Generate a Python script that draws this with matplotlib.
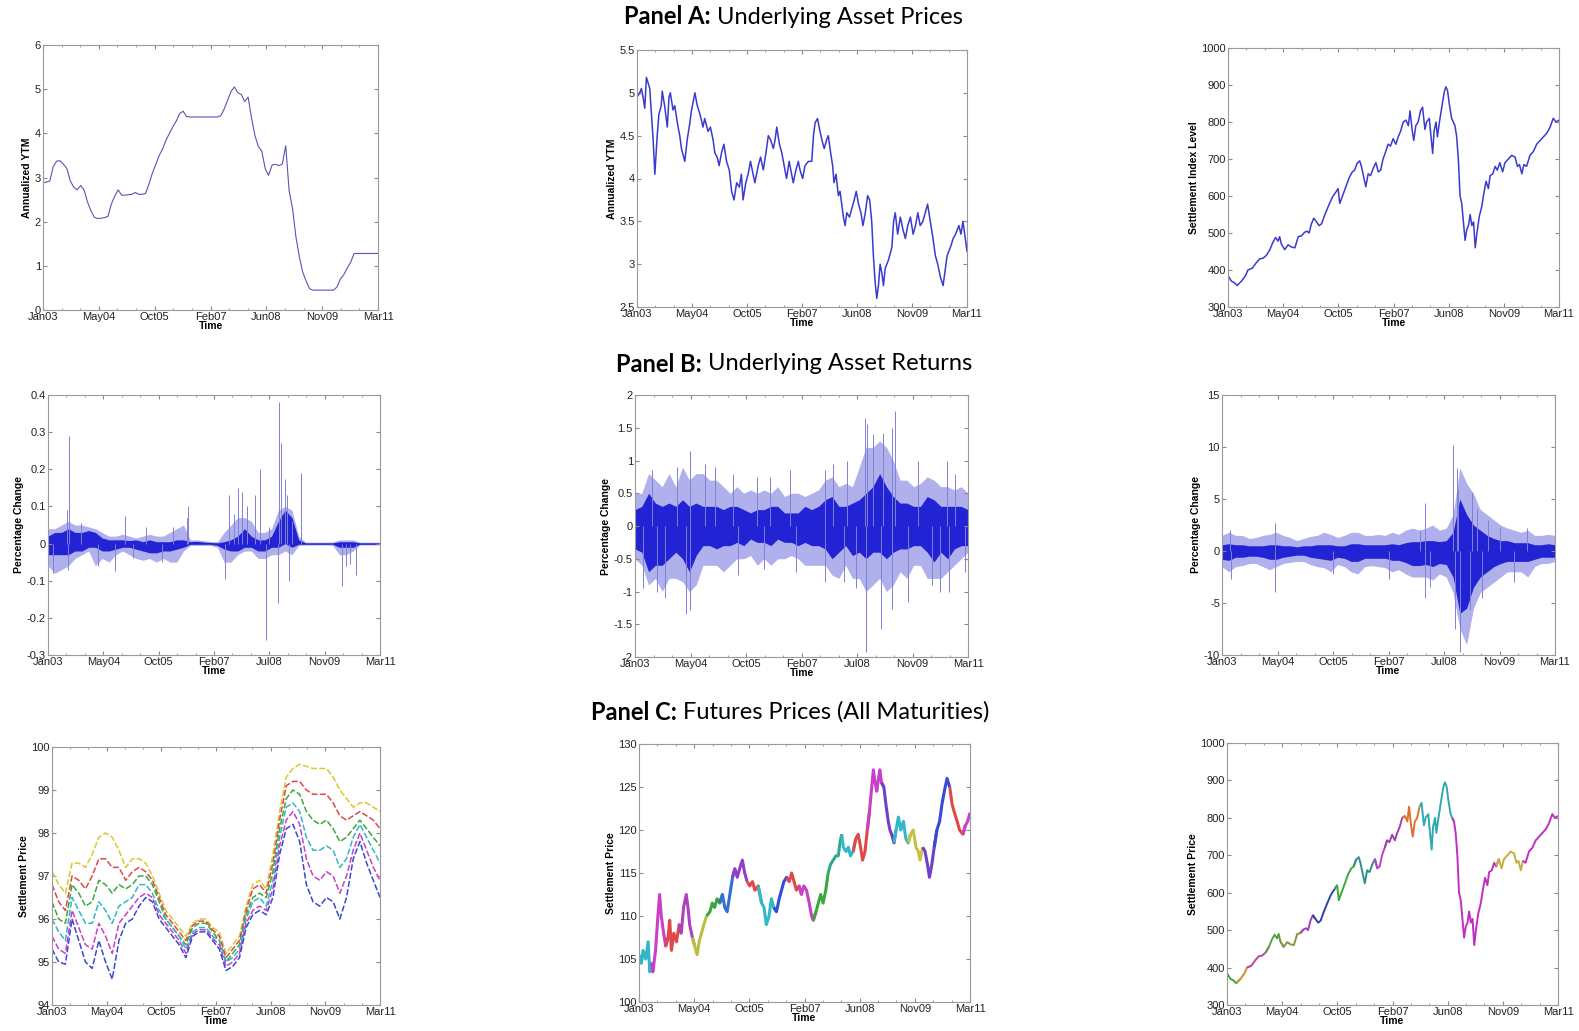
import numpy as np
import matplotlib
matplotlib.use('Agg')
import matplotlib.pyplot as plt
from matplotlib.ticker import FormatStrFormatter, AutoMinorLocator

plt.rcParams['font.family'] = ['Liberation Sans', 'DejaVu Sans']

W, H = 1579, 1031

# x axis is months since Jan 2003 (0 .. 98 = Mar 2011)
labels_jun = ['Jan03', 'May04', 'Oct05', 'Feb07', 'Jun08', 'Nov09', 'Mar11']
labels_jul = ['Jan03', 'May04', 'Oct05', 'Feb07', 'Jul08', 'Nov09', 'Mar11']

# ---- Panel A: underlying prices ----
a1_t = np.arange(99)
a1_v = [2.88, 2.9, 2.92, 3.25, 3.37, 3.38, 3.3, 3.2, 2.92, 2.78,
        2.72, 2.82, 2.72, 2.45, 2.25, 2.1, 2.07, 2.08, 2.09, 2.12,
        2.4, 2.58, 2.72, 2.6, 2.6, 2.61, 2.62, 2.66, 2.62, 2.62,
        2.64, 2.85, 3.1, 3.3, 3.5, 3.65, 3.85, 4.0, 4.15, 4.28,
        4.45, 4.5, 4.38, 4.37, 4.37, 4.37, 4.37, 4.37, 4.37, 4.37,
        4.37, 4.37, 4.4, 4.55, 4.75, 4.95, 5.05, 4.92, 4.88, 4.72,
        4.82, 4.35, 3.95, 3.7, 3.6, 3.2, 3.05, 3.28, 3.3, 3.27,
        3.3, 3.72, 2.7, 2.3, 1.65, 1.2, 0.85, 0.65, 0.48, 0.45,
        0.45, 0.45, 0.45, 0.45, 0.45, 0.45, 0.52, 0.7, 0.8, 0.95,
        1.08, 1.28, 1.28, 1.28, 1.28, 1.28, 1.28, 1.28, 1.28]

a2_t = [0, 0.8, 1.3, 1.8, 2.3, 2.8, 3.8, 4.0, 4.8, 5.3,
        6.0, 6.5, 7.2, 7.5, 8.2, 9.0, 9.5, 9.9, 10.7, 11.2,
        12.2, 12.7, 13.2, 14.2, 14.9, 15.7, 16.2, 17.2, 17.9, 18.7,
        19.6, 20.1, 21.1, 21.8, 22.6, 23.1, 23.8, 24.4, 25.1, 25.8,
        26.6, 27.4, 28.1, 28.8, 29.6, 30.4, 31.0, 31.5, 32.3, 33.0,
        33.7, 34.5, 35.0, 36.0, 36.7, 37.5, 38.3, 39.0, 39.7, 40.5,
        41.0, 41.5, 42.3, 43.0, 43.7, 44.4, 45.2, 45.9, 46.4, 47.2,
        47.9, 48.4, 49.2, 49.9, 50.9, 51.9, 52.4, 52.9, 53.6, 54.1,
        54.9, 55.6, 56.3, 56.8, 57.5, 58.1, 58.5, 59.1, 59.8, 60.3,
        61.3, 61.8, 62.3, 63.1, 63.8, 64.5, 65.1, 65.8, 66.5, 67.1,
        67.8, 68.5, 69.1, 69.7, 70.2, 70.7, 71.2, 71.7, 72.2, 72.7,
        73.2, 73.7, 74.7, 75.7, 76.2, 76.7, 77.4, 78.2, 79.0, 79.7,
        80.4, 81.2, 82.0, 82.7, 83.4, 84.1, 84.9, 85.6, 86.3, 87.1,
        87.9, 88.6, 89.3, 90.1, 90.9, 91.6, 92.1, 93.1, 93.9, 94.6,
        95.6, 96.2, 96.8, 97.5, 98.0]
a2_v = [4.95, 5.0, 5.05, 4.95, 4.82, 5.18, 5.05, 4.92, 4.45, 4.05,
        4.5, 4.75, 4.85, 5.02, 4.85, 4.6, 4.95, 5.0, 4.8, 4.85,
        4.6, 4.5, 4.35, 4.2, 4.45, 4.65, 4.8, 5.0, 4.85, 4.75,
        4.6, 4.7, 4.55, 4.6, 4.45, 4.3, 4.25, 4.15, 4.3, 4.4,
        4.2, 4.1, 3.85, 3.75, 3.95, 3.9, 4.05, 3.75, 3.95, 4.05,
        4.2, 4.05, 3.95, 4.15, 4.25, 4.1, 4.3, 4.5, 4.45, 4.35,
        4.45, 4.6, 4.4, 4.3, 4.15, 4.0, 4.2, 4.05, 3.95, 4.1,
        4.2, 4.1, 4.0, 4.15, 4.2, 4.2, 4.5, 4.65, 4.7, 4.6,
        4.45, 4.35, 4.45, 4.5, 4.3, 4.15, 3.95, 4.05, 3.8, 3.85,
        3.55, 3.45, 3.6, 3.55, 3.65, 3.75, 3.85, 3.7, 3.6, 3.45,
        3.6, 3.8, 3.75, 3.5, 3.1, 2.8, 2.6, 2.75, 3.0, 2.9,
        2.75, 2.95, 3.05, 3.2, 3.5, 3.6, 3.35, 3.55, 3.4, 3.3,
        3.45, 3.55, 3.35, 3.45, 3.6, 3.45, 3.5, 3.6, 3.7, 3.5,
        3.3, 3.1, 3.0, 2.85, 2.75, 2.95, 3.1, 3.2, 3.3, 3.35,
        3.45, 3.35, 3.5, 3.3, 3.15]

a3_t = [0, 1, 2, 2.7, 4, 5.2, 5.9, 7.2, 8.4, 9.4,
        10.4, 11.4, 12.4, 13.3, 14.1, 14.8, 15.3, 15.8, 16.8, 17.8,
        18.8, 19.8, 20.8, 21.7, 22.7, 23.4, 24.0, 24.7, 25.4, 26.2,
        27.0, 27.7, 28.7, 29.6, 30.3, 31.1, 31.9, 32.6, 33.1, 33.9,
        34.9, 35.9, 36.8, 37.5, 38.2, 39.0, 39.5, 40.2, 40.8, 41.5,
        42.2, 43.0, 43.8, 44.5, 45.2, 45.9, 46.7, 47.4, 48.1, 48.9,
        49.7, 50.4, 51.1, 51.9, 52.7, 53.4, 53.9, 54.5, 55.0, 55.6,
        56.3, 57.0, 57.6, 58.3, 58.8, 59.6, 60.0, 60.6, 61.0, 61.6,
        62.0, 62.6, 63.3, 64.0, 64.5, 65.0, 65.5, 66.2, 66.7, 67.2,
        67.7, 68.2, 68.7, 69.2, 69.7, 70.2, 70.7, 71.2, 71.7, 72.2,
        72.7, 73.2, 73.7, 74.4, 75.1, 75.8, 76.4, 77.1, 77.6, 78.4,
        79.1, 79.7, 80.5, 81.3, 82.0, 83.0, 84.0, 85.0, 85.7, 86.3,
        87.0, 87.6, 88.4, 89.4, 90.4, 91.4, 92.4, 93.4, 94.4, 95.3,
        96.3, 97.1, 98.0]
a3_v = [385, 370, 365, 358, 370, 385, 400, 405, 420, 430,
        432, 440, 455, 475, 488, 478, 490, 470, 455, 468,
        462, 460, 490, 492, 502, 505, 500, 525, 540, 530,
        520, 525, 550, 570, 585, 600, 610, 620, 580, 600,
        625, 650, 665, 670, 688, 695, 680, 650, 625, 660,
        655, 675, 690, 665, 670, 700, 720, 740, 735, 755,
        740, 760, 775, 800, 805, 790, 830, 780, 750, 790,
        800, 830, 840, 780, 800, 810, 770, 715, 775, 800,
        760, 800, 840, 880, 895, 885, 850, 810, 800, 790,
        760, 700, 600, 580, 530, 480, 510, 520, 550, 520,
        530, 460, 500, 545, 570, 610, 640, 620, 655, 660,
        680, 670, 690, 665, 690, 700, 710, 705, 680, 685,
        660, 685, 680, 710, 720, 740, 750, 760, 770, 785,
        810, 800, 805]

# ---- Panel B: returns, read as envelopes every two months ----
b_t = np.arange(0, 99, 2)

b1_outer_hi = [0.04, 0.04, 0.05, 0.06, 0.05, 0.05, 0.045, 0.04, 0.03, 0.02,
               0.02, 0.025, 0.02, 0.015, 0.02, 0.025, 0.02, 0.02, 0.03, 0.04,
               0.05, 0.01, 0.01, 0.008, 0.005, 0.005, 0.03, 0.05, 0.07, 0.07,
               0.06, 0.03, 0.03, 0.04, 0.09, 0.1, 0.09, 0.02, 0.004, 0.004,
               0.004, 0.004, 0.004, 0.01, 0.01, 0.01, 0.004, 0.004, 0.004, 0.004]
b1_outer_lo = [-0.06, -0.08, -0.07, -0.06, -0.04, -0.03, -0.02, -0.06, -0.04, -0.05,
               -0.03, -0.02, -0.03, -0.04, -0.045, -0.04, -0.05, -0.04, -0.05, -0.05,
               -0.02, -0.005, -0.005, -0.005, -0.005, -0.01, -0.05, -0.05, -0.03, -0.02,
               -0.02, -0.04, -0.04, -0.03, -0.03, -0.02, -0.03, -0.005, -0.004, -0.004,
               -0.004, -0.004, -0.004, -0.03, -0.03, -0.02, -0.004, -0.004, -0.004, -0.004]
b1_core_hi = [0.02, 0.03, 0.03, 0.04, 0.03, 0.03, 0.035, 0.03, 0.015, 0.01,
              0.01, 0.01, 0.008, 0.01, 0.005, 0.01, 0.005, 0.005, 0.005, 0.01,
              0.01, 0.005, 0.006, 0.004, 0.003, 0.002, 0.005, 0.01, 0.02, 0.04,
              0.02, 0.01, 0.01, 0.02, 0.06, 0.09, 0.07, 0.01, 0.002, 0.002,
              0.002, 0.002, 0.002, 0.005, 0.005, 0.005, 0.002, 0.002, 0.002, 0.002]
b1_core_lo = [-0.03, -0.03, -0.03, -0.03, -0.02, -0.02, -0.01, -0.01, -0.02, -0.02,
              -0.015, -0.01, -0.01, -0.015, -0.02, -0.025, -0.025, -0.02, -0.02, -0.015,
              -0.01, -0.002, -0.002, -0.002, -0.002, -0.005, -0.015, -0.02, -0.02, -0.01,
              -0.01, -0.02, -0.02, -0.01, -0.01, 0.0, -0.01, -0.002, -0.002, -0.002,
              -0.002, -0.002, -0.002, -0.01, -0.01, -0.01, -0.002, -0.002, -0.002, -0.002]
b1_spike_t = [1.5, 5.7, 5.9, 6.2, 9.6, 14.8, 19.7, 22.6, 25.2, 29.0,
              33.6, 37.0, 40.9, 41.4, 52.3, 53.3, 54.9, 56.1, 57.3, 58.8,
              61.0, 62.7, 64.3, 65.3, 68.0, 68.3, 68.8, 69.9, 70.6, 71.2,
              71.9, 74.8, 86.7, 88.0, 89.2, 90.9]
b1_spike_v = [-0.08, 0.09, -0.07, 0.29, 0.055, -0.06, -0.075, 0.075, -0.04, 0.045,
              -0.05, 0.045, 0.07, 0.1, -0.095, 0.13, 0.08, 0.15, 0.14, 0.1,
              0.13, 0.2, -0.26, 0.045, -0.16, 0.38, 0.27, 0.175, 0.13, -0.1,
              0.06, 0.19, -0.115, -0.06, -0.055, -0.085]

b2_outer_hi = [0.5, 0.5, 0.8, 0.7, 0.6, 0.8, 0.6, 0.9, 0.7, 0.8,
               0.8, 0.7, 0.7, 0.6, 0.5, 0.6, 0.5, 0.55, 0.5, 0.55,
               0.5, 0.6, 0.45, 0.5, 0.5, 0.45, 0.5, 0.55, 0.7, 0.75,
               0.6, 0.65, 0.6, 0.9, 1.2, 1.2, 1.3, 1.2, 1.0, 0.7,
               0.7, 0.6, 0.65, 0.75, 0.7, 0.6, 0.6, 0.55, 0.6, 0.5]
b2_outer_lo = [-0.5, -0.6, -0.9, -0.8, -1.0, -0.8, -0.8, -0.85, -1.0, -0.9,
               -0.6, -0.6, -0.6, -0.7, -0.6, -0.5, -0.5, -0.45, -0.6, -0.5,
               -0.6, -0.5, -0.5, -0.45, -0.5, -0.6, -0.6, -0.6, -0.6, -0.75,
               -0.8, -0.6, -0.8, -0.8, -1.0, -0.9, -0.8, -1.0, -0.9, -0.7,
               -0.8, -0.6, -0.6, -0.8, -0.8, -0.8, -0.7, -0.6, -0.5, -0.4]
b2_core_hi = [0.25, 0.3, 0.5, 0.35, 0.3, 0.35, 0.3, 0.4, 0.3, 0.35,
              0.3, 0.3, 0.3, 0.25, 0.3, 0.3, 0.25, 0.2, 0.25, 0.25,
              0.3, 0.3, 0.2, 0.2, 0.2, 0.3, 0.25, 0.3, 0.4, 0.45,
              0.3, 0.3, 0.35, 0.4, 0.5, 0.6, 0.8, 0.6, 0.45, 0.35,
              0.35, 0.3, 0.3, 0.45, 0.4, 0.3, 0.3, 0.3, 0.3, 0.25]
b2_core_lo = [-0.35, -0.4, -0.7, -0.6, -0.6, -0.5, -0.4, -0.5, -0.7, -0.45,
              -0.3, -0.3, -0.35, -0.3, -0.3, -0.25, -0.3, -0.2, -0.25, -0.25,
              -0.3, -0.2, -0.25, -0.25, -0.3, -0.25, -0.3, -0.3, -0.35, -0.5,
              -0.4, -0.3, -0.45, -0.4, -0.5, -0.4, -0.4, -0.5, -0.4, -0.35,
              -0.35, -0.3, -0.3, -0.4, -0.55, -0.4, -0.5, -0.35, -0.3, -0.3]
b2_spike_t = [2.5, 4.9, 6.6, 8.8, 12.3, 15.0, 16.2, 16.2, 20.6, 23.5,
              28.9, 30.3, 35.8, 38.1, 39.7, 45.6, 47.4, 55.9, 56.0, 58.3,
              61.4, 62.3, 65.1, 67.6, 68.1, 68.3, 70.1, 72.5, 73.0, 75.5,
              75.5, 76.5, 80.4, 83.3, 87.4, 89.7, 91.7, 92.3, 94.1, 97.1]
b2_spike_v = [-0.95, 0.86, -1.0, -1.1, 0.9, -1.34, 1.14, -1.29, 0.95, 0.9,
              0.8, -0.75, 0.75, -0.65, 0.75, 0.85, -0.7, 0.85, -0.85, 0.95,
              -0.85, 1.0, -0.95, 1.65, -1.93, 1.55, 1.4, -1.57, 1.42, 1.5,
              -1.26, 1.75, -1.16, 1.0, -0.9, -1.0, 1.0, -1.0, 0.8, -0.7]

b3_outer_hi = [1.5, 1.8, 1.5, 1.5, 1.2, 1.3, 1.5, 1.6, 1.8, 1.5,
               1.3, 1.0, 1.2, 1.4, 1.5, 1.8, 1.6, 1.3, 1.5, 1.8,
               1.8, 1.5, 1.5, 1.6, 1.5, 1.8, 1.6, 2.0, 2.2, 2.0,
               2.2, 2.5, 2.0, 2.2, 3.5, 8.0, 6.5, 5.5, 4.0, 3.5,
               3.0, 2.5, 2.2, 2.0, 1.8, 2.0, 1.5, 1.5, 1.6, 1.5]
b3_outer_lo = [-1.5, -2.0, -1.5, -1.4, -1.2, -1.2, -1.5, -1.8, -1.5, -1.2,
               -1.1, -1.0, -1.0, -1.3, -1.5, -1.6, -2.0, -1.3, -1.5, -2.0,
               -2.2, -1.5, -1.4, -1.5, -1.6, -2.0, -1.8, -2.2, -2.5, -2.5,
               -2.5, -2.8, -2.2, -2.5, -4.0, -7.5, -9.0, -5.5, -4.0, -3.5,
               -3.0, -2.5, -2.0, -2.0, -2.0, -2.5, -1.5, -1.2, -1.2, -1.0]
b3_core_hi = [0.6, 0.7, 0.6, 0.6, 0.5, 0.5, 0.5, 0.6, 0.6, 0.5,
              0.5, 0.4, 0.5, 0.5, 0.6, 0.6, 0.6, 0.5, 0.5, 0.7,
              0.7, 0.6, 0.6, 0.6, 0.6, 0.7, 0.6, 0.8, 0.9, 0.9,
              1.0, 1.0, 0.9, 1.0, 1.8, 5.0, 3.5, 2.5, 2.0, 1.5,
              1.2, 1.0, 1.0, 0.8, 0.8, 0.8, 0.6, 0.6, 0.7, 0.6]
b3_core_lo = [-0.8, -0.9, -0.6, -0.6, -0.5, -0.5, -0.6, -0.8, -0.8, -0.6,
              -0.5, -0.4, -0.4, -0.6, -0.7, -0.8, -0.9, -0.6, -0.7, -1.0,
              -1.0, -0.7, -0.7, -0.7, -0.7, -0.9, -0.9, -1.1, -1.4, -1.4,
              -1.3, -1.5, -1.2, -1.3, -2.5, -6.0, -5.5, -3.5, -2.5, -2.0,
              -1.5, -1.2, -1.0, -1.0, -1.0, -1.0, -0.8, -0.6, -0.6, -0.6]
b3_spike_t = [2.5, 2.6, 15.7, 15.7, 32.8, 49.0, 58.3, 59.8, 59.8, 61.3,
              68.1, 68.5, 69.1, 69.6, 70.1, 73.0, 73.5, 75.0, 76.5, 78.4,
              81.9, 85.8, 89.7]
b3_spike_v = [2.0, -2.7, 2.7, -3.9, -2.2, -2.7, 2.0, 4.6, -4.5, -3.5,
              10.2, -7.5, 8.0, 6.0, -9.7, -5.7, 5.7, 4.0, -4.5, 3.0,
              2.3, -3.0, 2.2]

# ---- Panel C: futures ----
c1_t = np.arange(0, 99, 2)
c1_series = [
    [97.1, 96.8, 96.6, 97.3, 97.3, 97.2, 97.5, 97.9, 98.0, 97.9,
     97.6, 97.2, 97.4, 97.4, 97.3, 97.0, 96.6, 96.2, 96.0, 95.8,
     95.6, 95.9, 96.0, 96.0, 95.8, 95.7, 95.2, 95.4, 95.6, 96.3,
     96.8, 96.9, 96.7, 97.5, 98.5, 99.3, 99.5, 99.6, 99.55, 99.5,
     99.5, 99.5, 99.3, 99.0, 98.8, 98.6, 98.7, 98.7, 98.6, 98.5],
    [96.8, 96.4, 96.2, 97.0, 96.9, 96.7, 97.0, 97.4, 97.4, 97.2,
     97.2, 96.9, 97.1, 97.2, 97.1, 96.9, 96.5, 96.1, 95.9, 95.7,
     95.5, 95.85, 95.95, 95.95, 95.75, 95.6, 95.1, 95.3, 95.5, 96.2,
     96.7, 96.8, 96.6, 97.3, 98.3, 99.1, 99.2, 99.2, 99.0, 98.9,
     98.9, 98.9, 98.7, 98.4, 98.3, 98.4, 98.5, 98.4, 98.3, 98.1],
    [96.4, 96.0, 95.9, 96.8, 96.6, 96.3, 96.4, 96.9, 96.8, 96.6,
     96.8, 96.7, 96.8, 97.0, 97.0, 96.8, 96.4, 96.0, 95.8, 95.6,
     95.4, 95.8, 95.9, 95.9, 95.7, 95.5, 95.0, 95.2, 95.4, 96.1,
     96.5, 96.6, 96.5, 97.1, 98.1, 98.8, 99.0, 98.9, 98.5, 98.3,
     98.2, 98.3, 98.1, 97.8, 97.9, 98.1, 98.3, 98.1, 97.9, 97.7],
    [96.0, 95.7, 95.5, 96.5, 96.2, 95.9, 95.9, 96.4, 96.2, 95.9,
     96.3, 96.4, 96.5, 96.8, 96.8, 96.6, 96.2, 96.0, 95.8, 95.6,
     95.3, 95.7, 95.8, 95.8, 95.6, 95.5, 95.0, 95.1, 95.3, 96.0,
     96.4, 96.5, 96.3, 96.9, 97.9, 98.6, 98.7, 98.5, 97.9, 97.6,
     97.6, 97.7, 97.6, 97.2, 97.4, 97.9, 98.2, 97.9, 97.6, 97.3],
    [95.6, 95.3, 95.2, 96.2, 95.8, 95.4, 95.3, 95.9, 95.6, 95.2,
     95.9, 96.1, 96.3, 96.5, 96.6, 96.5, 96.1, 95.9, 95.7, 95.5,
     95.2, 95.65, 95.75, 95.75, 95.55, 95.4, 94.9, 95.0, 95.2, 95.9,
     96.2, 96.3, 96.2, 96.7, 97.7, 98.3, 98.5, 98.2, 97.4, 97.0,
     96.9, 97.1, 97.0, 96.6, 97.0, 97.6, 98.0, 97.6, 97.2, 96.9],
    [95.3, 95.0, 94.95, 96.0, 95.5, 95.0, 94.85, 95.5, 95.0, 94.6,
     95.5, 95.9, 96.0, 96.3, 96.5, 96.4, 96.0, 95.8, 95.6, 95.4,
     95.1, 95.6, 95.7, 95.7, 95.5, 95.3, 94.8, 94.9, 95.1, 95.8,
     96.1, 96.2, 96.1, 96.5, 97.5, 98.1, 98.2, 97.8, 96.8, 96.4,
     96.3, 96.5, 96.4, 96.0, 96.5, 97.4, 97.8, 97.3, 96.9, 96.5],
]
c1_colors = ['#d8c830', '#e04848', '#3aa83a', '#30b8c8', '#c840c8', '#3848d8']

c2_t = [0, 0.7, 1.2, 2.0, 2.7, 3.2, 3.7, 4.1, 4.9, 5.6,
        6.1, 6.6, 7.3, 7.9, 8.6, 9.1, 9.6, 10.3, 11.1, 11.9,
        12.5, 13.2, 14.0, 14.5, 15.0, 15.8, 16.5, 17.2, 17.8, 18.5,
        19.2, 20.0, 21.0, 21.7, 22.4, 23.1, 23.9, 24.7, 25.4, 26.1,
        26.9, 27.7, 28.4, 29.1, 29.8, 30.6, 31.3, 32.0, 32.8, 33.6,
        34.3, 35.3, 36.3, 37.0, 37.7, 38.5, 39.2, 39.9, 40.7, 41.5,
        42.2, 42.9, 43.7, 44.5, 45.2, 45.9, 46.6, 47.4, 48.1, 48.8,
        49.6, 50.4, 51.1, 51.6, 52.4, 53.1, 53.8, 54.5, 55.3, 56.0,
        56.7, 57.5, 58.3, 59.0, 59.5, 60.0, 60.5, 61.3, 62.0, 62.6,
        63.4, 64.2, 64.9, 65.6, 66.2, 66.9, 67.6, 68.2, 68.9, 69.4,
        69.9, 70.4, 70.9, 71.3, 71.8, 72.5, 73.1, 73.8, 74.3, 74.8,
        75.5, 76.1, 76.8, 77.5, 78.3, 79.0, 79.7, 80.4, 81.2, 82.0,
        82.7, 83.2, 84.0, 84.7, 85.4, 86.0, 86.7, 87.4, 88.2, 89.0,
        89.7, 90.4, 91.2, 92.0, 92.7, 93.4, 94.2, 94.9, 95.9, 96.6,
        97.3, 98.0]
c2_v = [105.5, 104.5, 106, 105, 107, 103.5, 104.5, 103.5, 106, 110,
        112.5, 110, 108, 106.5, 107.5, 109.5, 106, 108, 107, 109,
        108, 111, 112.5, 111, 109, 107.5, 106.5, 105.5, 107, 108,
        109, 110, 110.5, 111.5, 111, 112, 111.5, 112.5, 111, 110.5,
        112.5, 114.5, 115.5, 114.5, 115.5, 116.5, 115, 114, 113.5, 114,
        113, 113.5, 111.5, 111, 109, 110, 112, 111, 110.5, 112,
        113, 114, 114.5, 114, 115, 114, 113, 113.5, 112.5, 113.5,
        113, 111.5, 110, 109.5, 110.5, 111.5, 112.5, 111.5, 113, 115,
        116, 116.5, 117, 117, 118.5, 119.5, 118, 117.5, 118, 117,
        117.5, 119, 119.5, 118, 116.5, 117.5, 120, 122, 125, 127,
        125.5, 124.5, 126, 127, 125.5, 125, 123, 121, 120, 119.5,
        118.5, 120, 121.5, 120, 121, 119, 118.5, 119.5, 120, 118,
        117.5, 116.5, 118, 117.5, 116, 114.5, 116, 118, 120, 121,
        123, 124.5, 126, 125, 123, 122, 121, 120, 119.5, 120.5,
        121, 122]
# contract roll points (months) and the colour of each contract
c2_edges = [0, 4, 8, 12, 16, 20, 24, 28, 32, 36, 40, 44, 48, 52, 56, 60,
            64, 68, 72, 76, 80, 84, 88, 92, 96, 98]
c2_colors = ['#30b8c8', '#c840c8', '#e04848', '#b040c0', '#b8c040', '#3aa83a',
             '#3070d0', '#9040c8', '#e04848', '#30b8c8', '#3848d8', '#e04848',
             '#c840c8', '#3aa83a', '#30a890', '#30b8c8', '#e04848', '#c840c8',
             '#7040c8', '#30b8c8', '#c8c040', '#7040c8', '#3848d8', '#e04848',
             '#c840c8']

c3_edges = [0, 3, 7, 12, 16, 22, 26, 32, 38, 44, 47, 52, 57, 67, 80, 88, 98]
c3_colors = ['#3aa83a', '#d09030', '#c040b0', '#58a040', '#909040', '#a040c0',
             '#3040b0', '#3aa83a', '#309090', '#c040c0', '#a040b0', '#e07030',
             '#30a8b0', '#c030c0', '#c0b040', '#c030c0']

BLUE = '#3a3ad0'


def add_axes(fig, left, top, right, bottom):
    return fig.add_axes([left / W, 1 - bottom / H, (right - left) / W, (bottom - top) / H])


def style_axes(ax, yticks, xlabels, ylabel):
    ax.set_xlim(0, 98)
    ax.set_xticks(np.linspace(0, 98, 7))
    ax.set_xticklabels(xlabels)
    ax.xaxis.set_minor_locator(AutoMinorLocator(3))
    ax.set_ylim(yticks[0], yticks[-1])
    ax.set_yticks(yticks)
    ax.yaxis.set_major_formatter(FormatStrFormatter('%g'))
    ax.tick_params(which='both', direction='in', top=True, right=True,
                   color='#8a8a8a', labelcolor='#222222')
    ax.tick_params(which='major', length=3, labelsize=8, pad=1.5)
    ax.tick_params(which='minor', length=1.5)
    for s in ax.spines.values():
        s.set_color('#9a9a9a')
        s.set_linewidth(0.8)
    ax.set_xlabel('Time', fontweight='bold', fontsize=7.5, labelpad=-1)
    ax.set_ylabel(ylabel, fontweight='bold', fontsize=7.5, labelpad=2)


def draw_returns(ax, outer_hi, outer_lo, core_hi, core_lo, spike_t, spike_v):
    ax.fill_between(b_t, outer_lo, outer_hi, color='#b0b0ec', lw=0)
    ax.vlines(spike_t, 0, spike_v, color='#8080d8', lw=0.7)
    ax.fill_between(b_t, core_lo, core_hi, color='#2323d6', lw=0)


def draw_segments(ax, t, v, edges, colors, lw):
    t = np.asarray(t)
    v = np.asarray(v)
    for a, b, c in zip(edges[:-1], edges[1:], colors):
        i0 = max(np.searchsorted(t, a, side='right') - 1, 0)
        i1 = np.searchsorted(t, b, side='left') + 1
        ax.plot(t[i0:i1], v[i0:i1], color=c, lw=lw, solid_capstyle='butt')


fig = plt.figure(figsize=(W / 100, H / 100), dpi=100)

# Panel titles
for y, split, head, rest in [(17, 711, 'Panel A:', 'Underlying Asset Prices'),
                             (364, 702, 'Panel B:', 'Underlying Asset Returns'),
                             (712, 677, 'Panel C:', 'Futures Prices (All Maturities)')]:
    fig.text(split / W, 1 - y / H, head, ha='right', va='center',
             fontsize=17, fontweight='bold', family=['Lato', 'DejaVu Sans'])
    fig.text((split + 6) / W, 1 - y / H, rest, ha='left', va='center',
             fontsize=17, family=['Lato', 'DejaVu Sans'])

# Row A
ax = add_axes(fig, 43, 45, 378, 310)
ax.plot(a1_t, a1_v, color='#5555b8', lw=0.8)
style_axes(ax, [0, 1, 2, 3, 4, 5, 6], labels_jun, 'Annualized YTM')

ax = add_axes(fig, 637, 50, 967, 307)
ax.plot(a2_t, a2_v, color=BLUE, lw=1.1)
style_axes(ax, [2.5, 3, 3.5, 4, 4.5, 5, 5.5], labels_jun, 'Annualized YTM')

ax = add_axes(fig, 1228, 48, 1559, 307)
ax.plot(a3_t, a3_v, color=BLUE, lw=1.1)
style_axes(ax, list(range(300, 1001, 100)), labels_jun, 'Settlement Index Level')

# Row B
ax = add_axes(fig, 48, 395, 380, 655)
draw_returns(ax, b1_outer_hi, b1_outer_lo, b1_core_hi, b1_core_lo, b1_spike_t, b1_spike_v)
style_axes(ax, [-0.3, -0.2, -0.1, 0, 0.1, 0.2, 0.3, 0.4], labels_jul, 'Percentage Change')

ax = add_axes(fig, 635, 395, 968, 657)
draw_returns(ax, b2_outer_hi, b2_outer_lo, b2_core_hi, b2_core_lo, b2_spike_t, b2_spike_v)
style_axes(ax, [-2, -1.5, -1, -0.5, 0, 0.5, 1, 1.5, 2], labels_jul, 'Percentage Change')

ax = add_axes(fig, 1222, 395, 1555, 655)
draw_returns(ax, b3_outer_hi, b3_outer_lo, b3_core_hi, b3_core_lo, b3_spike_t, b3_spike_v)
style_axes(ax, [-10, -5, 0, 5, 10, 15], labels_jul, 'Percentage Change')

# Row C
ax = add_axes(fig, 52, 747, 380, 1005)
for s, c in zip(c1_series, c1_colors):
    ax.plot(c1_t, s, color=c, lw=1.1, ls=(0, (4, 1.5)))
style_axes(ax, [94, 95, 96, 97, 98, 99, 100], labels_jun, 'Settlement Price')

ax = add_axes(fig, 639, 744, 970, 1002)
draw_segments(ax, c2_t, c2_v, c2_edges, c2_colors, 2.2)
style_axes(ax, [100, 105, 110, 115, 120, 125, 130], labels_jun, 'Settlement Price')

ax = add_axes(fig, 1227, 743, 1558, 1005)
draw_segments(ax, a3_t, a3_v, c3_edges, c3_colors, 1.4)
style_axes(ax, list(range(300, 1001, 100)), labels_jun, 'Settlement Price')

fig.savefig('out.png', dpi=100)
